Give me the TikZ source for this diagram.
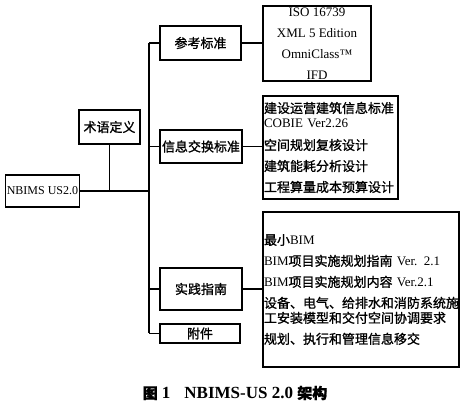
\documentclass[tikz,border=0pt]{standalone}
\usepackage{fontspec}
\setmainfont{Liberation Serif}
\newfontfamily\cjk[FakeBold=1.2]{Noto Sans CJK SC}
\newfontfamily\capserif{Liberation Serif}
\newcommand\zh[1]{{\cjk #1}}
\newcommand\capzh[1]{{\cjk\fontsize{15}{18}\selectfont #1}}

\begin{document}
\begin{tikzpicture}[x=1pt, y=-1pt,
    box/.style={draw, line width=1.2pt, inner sep=1pt, font=\fontsize{13}{15}\selectfont},
    listbox/.style={box, align=left, inner sep=1pt},
    link/.style={line width=1.5pt}
  ]
    \useasboundingbox (0,0) rectangle (467,409);

    \node[box, minimum width=71, minimum height=32] (nbims) at (42.5,191) {\fontsize{12}{14}\selectfont NBIMS US2.0};
    \node[box, minimum width=61, minimum height=34] (term) at (109.5,127) {\zh{术语定义}};
    \node[box, minimum width=81, minimum height=34] (refstd) at (200.5,43) {\zh{参考标准}};
    \node[box, minimum width=82, minimum height=33] (infoex) at (201,146.5) {\zh{信息交换标准}};
    \node[box, minimum width=82, minimum height=42] (practice) at (201,289) {\zh{实践指南}};
    \node[box, minimum width=80, minimum height=19] (annex) at (200,333.5) {\zh{附件}};

    \node[listbox, align=center, minimum width=108, minimum height=75] (refbox) at (317,43.5)
      {ISO 16739\\[6pt] XML 5 Edition\\[6pt] OmniClass™\\[6pt] IFD};
    \node[listbox, text width=133pt, minimum width=135, minimum height=103] (infobox) at (330.5,147.5)
      {\zh{建设运营建筑信息标准}\\ COBIE Ver2.26\\[7pt] \zh{空间规划复核设计}\\[6pt] \zh{建筑能耗分析设计}\\[6pt] \zh{工程算量成本预算设计}};
    \node[listbox, text width=194pt, minimum width=196, minimum height=155] (practicebox) at (361,289.5)
      {\zh{最小}BIM\\[6pt] BIM\zh{项目实施规划指南} Ver. 2.1\\[6pt] BIM\zh{项目实施规划内容} Ver.2.1\\[6pt] \zh{设备、电气、给排水和消防系统施}\\ \zh{工安装模型和交付空间协调要求}\\[6pt] \zh{规划、执行和管理信息移交}};

    \coordinate (trunk) at (149,191);
    \draw[link] (nbims.east) -- (trunk);
    \draw[link] (term.south) -- (term.south |- trunk);
    \draw[link] (trunk |- refstd.west) -- (trunk |- annex.west);
    \foreach \b in {refstd, infoex, practice, annex}
      \draw[link] (trunk |- \b.west) -- (\b.west);
    \draw[link] (refstd.east) -- (refstd.east -| refbox.west);
    \draw[link] (infoex.east) -- (infoex.east -| infobox.west);
    \draw[link] (practice.east) -- (practice.east -| practicebox.west);

    \node (caption) at (235,393) {\capzh{\bfseries 图}\capserif\bfseries\fontsize{17}{18}\selectfont\ 1\hspace{14pt}NBIMS-US 2.0 \capzh{\bfseries 架构}};
  \end{tikzpicture}
\end{document}
